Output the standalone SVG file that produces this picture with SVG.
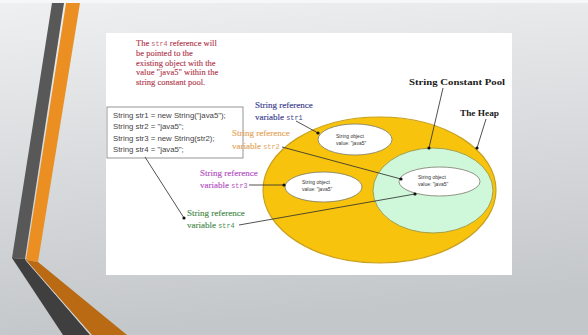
<svg xmlns="http://www.w3.org/2000/svg" width="588" height="335" viewBox="0 0 588 335">
  <defs>
    <linearGradient id="bg" x1="0" y1="0" x2="0.15" y2="1">
      <stop offset="0" stop-color="#eef0f1"/>
      <stop offset="1" stop-color="#c4c7ca"/>
    </linearGradient>
    <marker id="dot" viewBox="0 0 4 4" refX="2" refY="2" markerWidth="4" markerHeight="4" markerUnits="userSpaceOnUse">
      <circle cx="2" cy="2" r="1.6" fill="#111"/>
    </marker>
    <style>
      .lead { stroke: #333; stroke-width: 0.85; fill: none; marker-end: url(#dot); }
      .obj { fill: #ffffff; stroke: #7a7a6a; stroke-width: 0.8; }
      .objtxt { font-family: "Liberation Sans", Arial, sans-serif; font-size: 5px; fill: #333; }
      .lbl { font-family: "Liberation Serif", "Times New Roman", serif; font-size: 9px; stroke-width: 0.15; }
      .var { font-family: "Liberation Mono", monospace; font-size: 6.8px; stroke-width: 0; }
      .code { font-family: "Liberation Sans", Arial, sans-serif; font-size: 7.8px; fill: #444; }
      .title { font-family: "Liberation Serif", "Times New Roman", serif; font-size: 8.6px; font-weight: bold; fill: #1a1a1a; }
      .note { font-family: "Liberation Serif", "Times New Roman", serif; font-size: 8.5px; fill: #b0354a; stroke: #b0354a; stroke-width: 0.12; }
    </style>
  </defs>

  <!-- slide background -->
  <rect x="0" y="0" width="588" height="335" fill="url(#bg)"/>
  <rect x="0" y="0" width="588" height="3" fill="#f6f7f8"/>

  <!-- left decorative chevrons -->
  <g id="chevrons">
    <polygon points="52,3 64,3 25,259 12,258" fill="#585858"/>
    <polygon points="12,258 25,259 90,335 63,335" fill="#3f3f3f"/>
    <polygon points="66,3 80,3 38,262 26,260" fill="#ec8f23"/>
    <polygon points="26,260 38,262 127,335 92,335" fill="#b96a12"/>
    <line x1="26" y1="260.5" x2="91" y2="335" stroke="#d8d8d8" stroke-width="0.8"/>
  </g>

  <!-- white content panel -->
  <rect x="106" y="33" width="406" height="242" fill="#ffffff"/>

  <!-- memory areas -->
  <g id="heap">
    <ellipse cx="379.5" cy="190" rx="116.5" ry="73" fill="#f7c30c" stroke="#c9a01e" stroke-width="1.2"/>
  </g>
  <g id="pool">
    <ellipse cx="433" cy="190.5" rx="60" ry="42.5" fill="#cff7da" stroke="#a3a04c" stroke-width="1"/>
  </g>

  <!-- string objects -->
  <g id="obj-str1">
    <ellipse class="obj" cx="355" cy="139.5" rx="37" ry="15.5"/>
    <text class="objtxt" x="336" y="138">String object</text>
    <text class="objtxt" x="336" y="145">value: "java5"</text>
  </g>
  <g id="obj-str3">
    <ellipse class="obj" cx="323.5" cy="187" rx="38.5" ry="15"/>
    <text class="objtxt" x="302" y="184">String object</text>
    <text class="objtxt" x="302" y="191">value: "java5"</text>
  </g>
  <g id="obj-pool">
    <ellipse class="obj" cx="439.5" cy="181.5" rx="40.5" ry="14.5"/>
    <text class="objtxt" x="418" y="179">String object</text>
    <text class="objtxt" x="418" y="186">value: "java5"</text>
  </g>

  <!-- titles -->
  <g id="pool-title">
    <text class="title" x="409" y="85" textLength="96" lengthAdjust="spacingAndGlyphs">String Constant Pool</text>
  </g>
  <g id="heap-title">
    <text class="title" x="460" y="116" textLength="39" lengthAdjust="spacingAndGlyphs">The Heap</text>
  </g>

  <!-- explanatory note -->
  <g id="note">
    <text class="note" x="136" y="46">The <tspan class="var" fill="#c06070" stroke="none">str4</tspan> reference will</text>
    <text class="note" x="136" y="56">be pointed to the</text>
    <text class="note" x="136" y="65.5">existing object with the</text>
    <text class="note" x="136" y="75">value "java5" within the</text>
    <text class="note" x="136" y="84.5">string constant pool.</text>
  </g>

  <!-- source code -->
  <g id="code">
    <rect x="107" y="107" width="136" height="51" fill="#ffffff" stroke="#8a8a8a" stroke-width="0.9"/>
    <text class="code" x="113" y="118">String str1 = new String("java5");</text>
    <text class="code" x="113" y="129">String str2 = "java5";</text>
    <text class="code" x="113" y="140.5">String str3 = new String(str2);</text>
    <text class="code" x="113" y="152">String str4 = "java5";</text>
  </g>

  <!-- reference variable labels -->
  <g id="ref-str1" fill="#3b3e8c" stroke="#3b3e8c">
    <text class="lbl" x="255" y="108">String reference</text>
    <text class="lbl" x="255" y="120">variable <tspan class="var">str1</tspan></text>
  </g>
  <g id="ref-str2" fill="#e3a65a" stroke="#e3a65a">
    <text class="lbl" x="232" y="136">String reference</text>
    <text class="lbl" x="232" y="149">variable <tspan class="var">str2</tspan></text>
  </g>
  <g id="ref-str3" fill="#b44fc4" stroke="#b44fc4">
    <text class="lbl" x="200" y="176">String reference</text>
    <text class="lbl" x="200" y="188">variable <tspan class="var">str3</tspan></text>
  </g>
  <g id="ref-str4" fill="#4a8c4e" stroke="#4a8c4e">
    <text class="lbl" x="187" y="216">String reference</text>
    <text class="lbl" x="187" y="228">variable <tspan class="var">str4</tspan></text>
  </g>

  <!-- connectors -->
  <g id="connectors">
    <line class="lead" x1="296" y1="121" x2="318" y2="133"/>
    <line class="lead" x1="282" y1="147" x2="401" y2="179"/>
    <line class="lead" x1="249" y1="185" x2="284" y2="185"/>
    <line class="lead" x1="239" y1="225" x2="415" y2="194"/>
    <line class="lead" x1="145" y1="157" x2="184" y2="218"/>
    <line class="lead" x1="443" y1="88" x2="429" y2="148"/>
    <line class="lead" x1="486" y1="119" x2="477" y2="148"/>
  </g>
</svg>
